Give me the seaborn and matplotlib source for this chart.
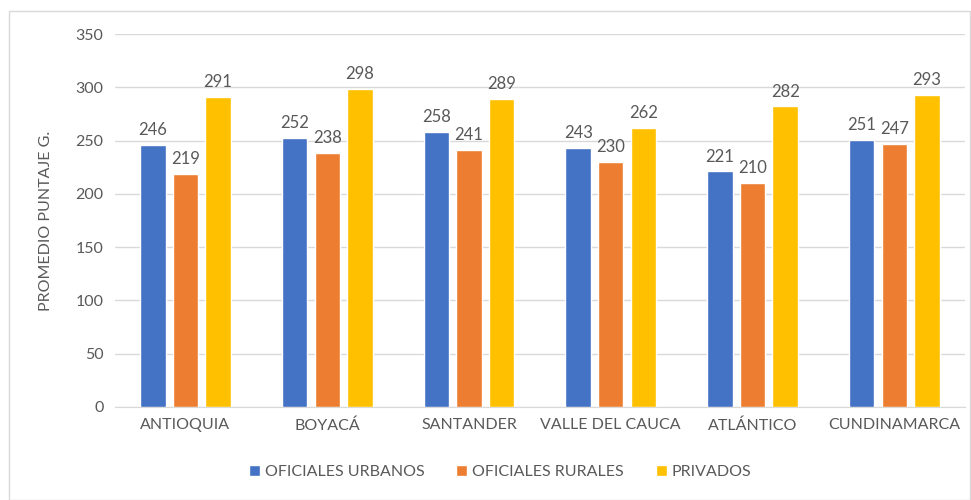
import pandas as pd
import matplotlib.pyplot as plt
import seaborn as sns
from matplotlib.patches import Rectangle, Patch

# Data
departments = ['ANTIOQUIA', 'BOYACÁ', 'SANTANDER', 'VALLE DEL CAUCA', 'ATLÁNTICO', 'CUNDINAMARCA']
oficiales_urbanos = [246, 252, 258, 243, 221, 251]
oficiales_rurales = [219, 238, 241, 230, 210, 247]
privados = [291, 298, 289, 262, 282, 293]
series_names = ['OFICIALES URBANOS', 'OFICIALES RURALES', 'PRIVADOS']
colors = ['#4472C4', '#ED7D31', '#FFC000']

df = pd.DataFrame({
    'dep': departments * 3,
    'tipo': [series_names[0]] * 6 + [series_names[1]] * 6 + [series_names[2]] * 6,
    'valor': oficiales_urbanos + oficiales_rurales + privados,
})

sns.set_style('white')
plt.rcParams['font.family'] = ['Lato', 'DejaVu Sans']
text_color = '#595959'

fig = plt.figure(figsize=(9.71, 5), dpi=100)
ax = fig.add_axes([0.118, 0.186, 0.876, 0.746])

sns.barplot(data=df, x='dep', y='valor', hue='tipo', palette=colors, saturation=1,
            width=0.69, gap=0.22, errorbar=None, legend=False, ax=ax, zorder=3)

# Value labels
for cont in ax.containers:
    ax.bar_label(cont, fmt='%d', padding=5, fontsize=12, color=text_color)

ax.set_ylim(0, 350)
ax.set_yticks(range(0, 351, 50))
ax.yaxis.grid(True, color='#d9d9d9', linewidth=1, zorder=0)
ax.set_xlim(-0.5, 5.5)
for s in ['top', 'right', 'left']:
    ax.spines[s].set_visible(False)
ax.spines['bottom'].set_color('#d9d9d9')
ax.tick_params(axis='both', length=0, labelsize=11.5, labelcolor=text_color, pad=8)
ax.set_xlabel('')
ax.set_ylabel('PROMEDIO PUNTAJE G.', fontsize=11.5, color=text_color, labelpad=16)

handles = [Patch(facecolor=c) for c in colors]
fig.legend(handles, series_names, loc='center', bbox_to_anchor=(0.515, 0.056), ncol=3,
           frameon=False, fontsize=11.5, labelcolor=text_color, handlelength=0.7,
           handleheight=0.7, handletextpad=0.3, columnspacing=2.0)

# Chart border
fig.patches.append(Rectangle((0.009, 0.0), 0.99, 0.978, transform=fig.transFigure,
                             fill=False, edgecolor='#d9d9d9', linewidth=1))

plt.savefig('out.png', dpi=100)
